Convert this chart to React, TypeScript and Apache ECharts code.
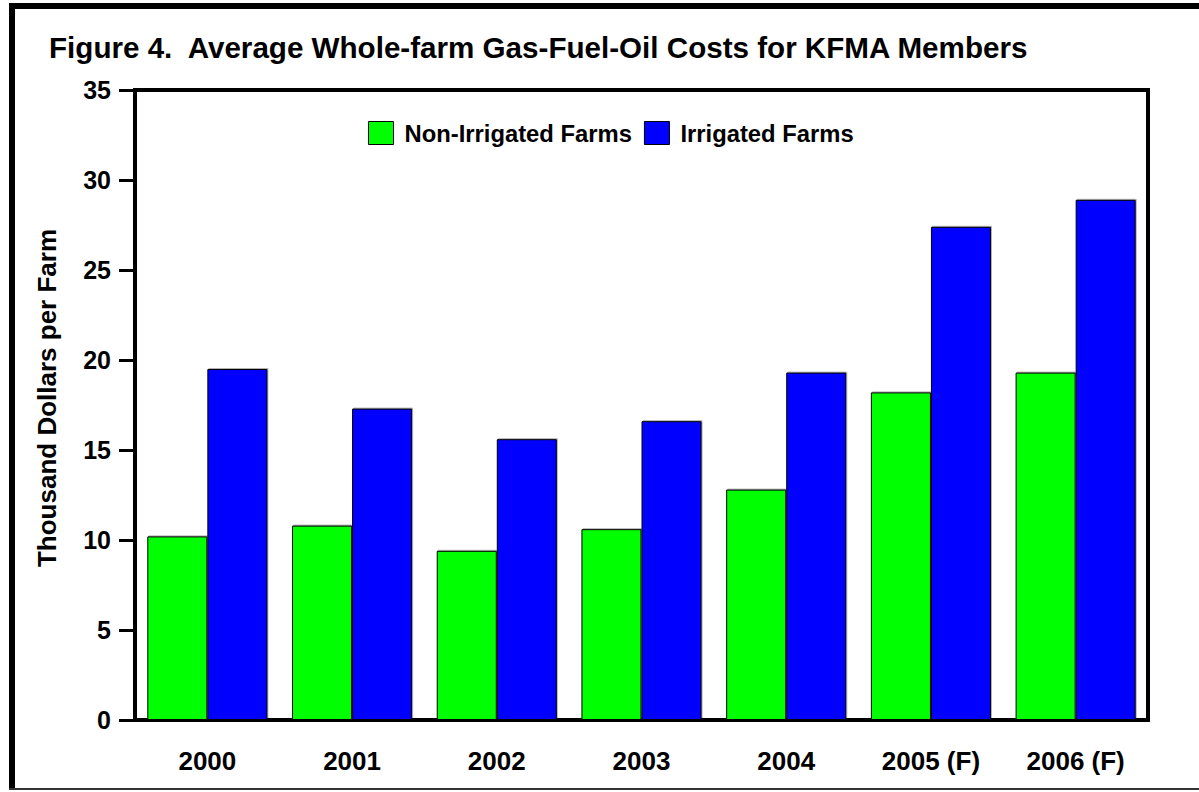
import React, { useEffect, useRef } from "react";
import * as echarts from "echarts";

const categories = ["2000", "2001", "2002", "2003", "2004", "2005 (F)", "2006 (F)"];
const nonIrrigated = [10.2, 10.8, 9.4, 10.6, 12.8, 18.2, 19.3];
const irrigated = [19.5, 17.3, 15.6, 16.6, 19.3, 27.4, 28.9];
const yTicks = { min: 0, max: 35, interval: 5 };

const FONT = "'Liberation Sans', Arial, Helvetica, sans-serif";

export default function App() {
  const ref = useRef<HTMLDivElement>(null);
  useEffect(() => {
    if (!ref.current) return;
    const chart = echarts.init(ref.current, null, { renderer: "svg" });
    const shadow = { shadowColor: "rgba(0,0,0,0.35)", shadowOffsetX: 1, shadowOffsetY: 1, shadowBlur: 0 };
    chart.setOption({
      animation: false,
      backgroundColor: "#ffffff",
      title: {
        text: "Figure 4.  Average Whole-farm Gas-Fuel-Oil Costs for KFMA Members",
        left: 44,
        top: 27,
        textStyle: { fontFamily: FONT, fontWeight: "bold", fontSize: 29.6, color: "#000" },
      },
      legend: {
        left: 363,
        top: 116,
        itemWidth: 25,
        itemHeight: 23,
        itemGap: 12,
        icon: "rect",
        textStyle: { fontFamily: FONT, fontWeight: "bold", fontSize: 23.8, color: "#000", padding: [0, 0, 0, 6] },
        data: [
          { name: "Non-Irrigated Farms", itemStyle: { color: "#00ff00", borderColor: "#000", borderWidth: 1 } },
          { name: "Irrigated Farms", itemStyle: { color: "#0000ff", borderColor: "#000", borderWidth: 1 } },
        ],
      },
      grid: {
        left: 135,
        right: 51,
        top: 90,
        bottom: 72,
        show: true,
        borderColor: "#000",
        borderWidth: 4,
        backgroundColor: "transparent",
      },
      xAxis: {
        type: "category",
        data: categories,
        axisLine: { show: true, lineStyle: { color: "#000", width: 4 } },
        axisTick: { show: false },
        axisLabel: {
          margin: 28,
          fontFamily: FONT,
          fontWeight: "bold",
          fontSize: 26,
          color: "#000",
        },
        splitLine: { show: false },
      },
      yAxis: {
        type: "value",
        min: yTicks.min,
        max: yTicks.max,
        interval: yTicks.interval,
        name: "Thousand Dollars per Farm",
        nameLocation: "middle",
        nameRotate: 90,
        nameGap: 75,
        nameTextStyle: { fontFamily: FONT, fontWeight: "bold", fontSize: 26, color: "#000", padding: [0, 0, 0, 14] },
        axisLine: { show: true, lineStyle: { color: "#000", width: 4 } },
        axisTick: { show: true, inside: false, length: 16, lineStyle: { color: "#000", width: 3 } },
        axisLabel: {
          margin: 24,
          fontFamily: FONT,
          fontWeight: "bold",
          fontSize: 25,
          color: "#000",
        },
        splitLine: { show: true, lineStyle: { color: "#000", width: 2, ...shadow } },
      },
      series: [
        {
          name: "Non-Irrigated Farms",
          type: "bar",
          data: nonIrrigated,
          barGap: "0%",
          barCategoryGap: "17%",
          itemStyle: { color: "#00ff00", borderColor: "#000", borderWidth: 1, shadowColor: "rgba(0,0,0,0.3)", shadowOffsetX: 1, shadowOffsetY: -1 },
        },
        {
          name: "Irrigated Farms",
          type: "bar",
          data: irrigated,
          barGap: "0%",
          barCategoryGap: "17%",
          itemStyle: { color: "#0000ff", borderColor: "#000", borderWidth: 1, shadowColor: "rgba(0,0,0,0.3)", shadowOffsetX: 1, shadowOffsetY: -1 },
        },
      ],
      graphic: [
        { type: "rect", left: 9, top: 3, shape: { width: 1190, height: 6 }, style: { fill: "#000" }, z: 100 },
        { type: "rect", left: 9, top: 3, shape: { width: 6, height: 787 }, style: { fill: "#000" }, z: 100 },
        { type: "rect", left: 9, top: 788, shape: { width: 1190, height: 2 }, style: { fill: "#333" }, z: 100 },
      ],
    });
    return () => chart.dispose();
  }, []);
  return (
    <div
      ref={ref}
      style={{ position: "fixed", left: 0, top: 0, width: 1199, height: 792, background: "#fff" }}
    />
  );
}
